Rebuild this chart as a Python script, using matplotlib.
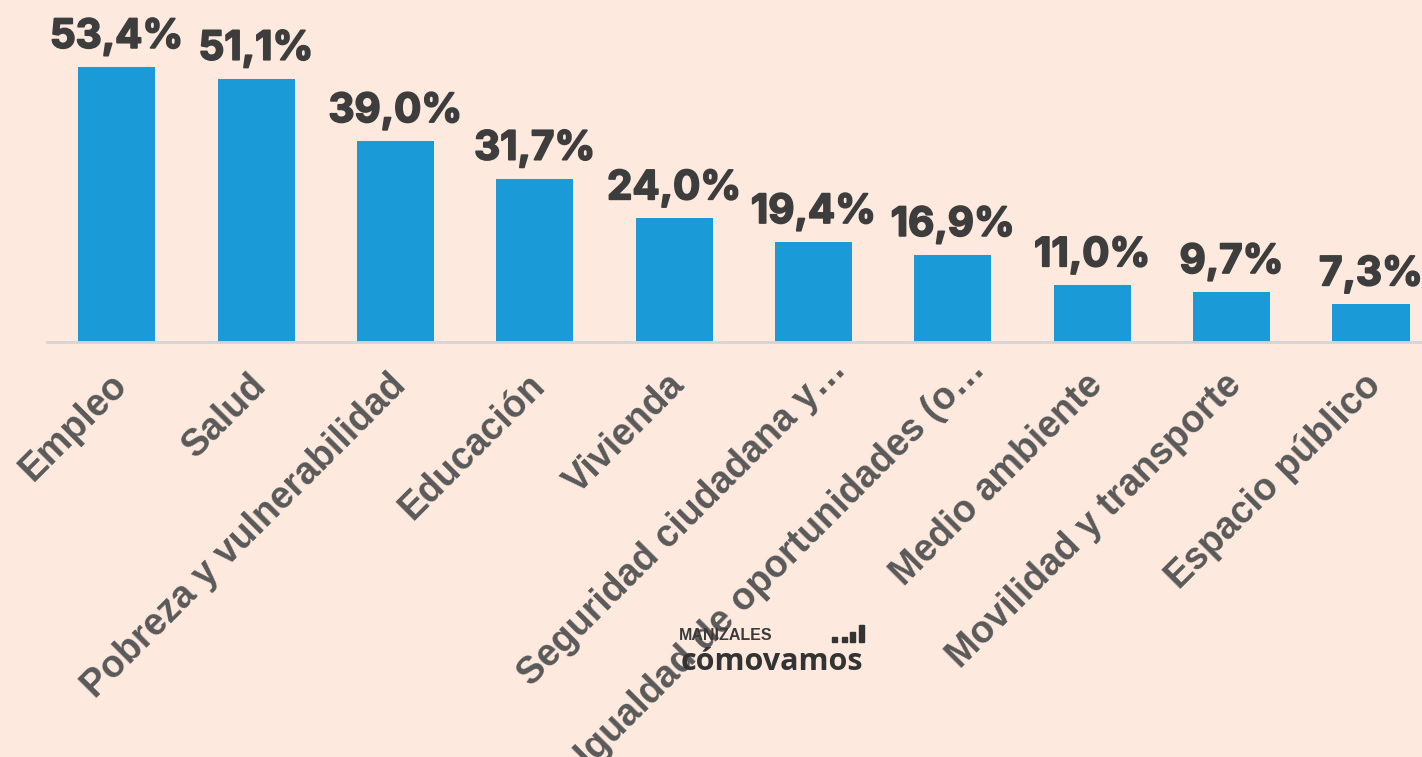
import matplotlib
matplotlib.use("Agg")
import matplotlib.pyplot as plt
import matplotlib.transforms as mtransforms
import matplotlib.patheffects as pe
from matplotlib.patches import Rectangle

categories = ["Empleo", "Salud", "Pobreza y vulnerabilidad", "Educación", "Vivienda",
              "Seguridad ciudadana y…", "Igualdad de oportunidades (o…",
              "Medio ambiente", "Movilidad y transporte", "Espacio público"]
values = [53.4, 51.1, 39.0, 31.7, 24.0, 19.4, 16.9, 11.0, 9.7, 7.3]
value_labels = ["53,4%", "51,1%", "39,0%", "31,7%", "24,0%", "19,4%", "16,9%", "11,0%", "9,7%", "7,3%"]

BG = "#FDE9DE"
BAR = "#1A9BD7"
VAL = "#3D3D3D"

W, H = 1422, 757
fig = plt.figure(figsize=(W / 100, H / 100), dpi=100, facecolor=BG)
ax = fig.add_axes([47 / W, 1 - 342 / H, (W - 47) / W, 342 / H])
ax.set_facecolor(BG)

x = list(range(len(categories)))
ax.bar(x, values, width=0.553, color=BAR, zorder=2)
ax.set_xlim(-0.5, 9.366)
ax.set_ylim(0, 66.4)

for xi, v, lab in zip(x, values, value_labels):
    ax.annotate(lab, (xi, v), xytext=(0, 8), textcoords="offset points",
                ha="center", va="bottom", fontsize=29, fontweight="bold",
                family="Inter", color=VAL, clip_on=False,
                path_effects=[pe.withStroke(linewidth=1.3, foreground=VAL)])

ax.set_xticks(x)
ax.set_xticklabels(categories, rotation=45, ha="right", rotation_mode="anchor",
                   fontsize=27, fontweight="bold", family="Liberation Sans",
                   color="#595959")
ax.tick_params(axis="x", length=0, pad=18)
for t in ax.get_xticklabels():
    dx, dy = -8, 0
    if t.get_text().endswith("…"):
        # truncated labels sit a little further along the slant
        dx, dy = 14, 16
    shift = mtransforms.ScaledTranslation(dx / 100, dy / 100, fig.dpi_scale_trans)
    t.set_transform(t.get_transform() + shift)
ax.set_yticks([])
for s in ["top", "left", "right"]:
    ax.spines[s].set_visible(False)
ax.spines["bottom"].set_color("#D5D5D5")
ax.spines["bottom"].set_linewidth(2)

# Logo
fig.text(679 / W, 1 - 636 / H, "MANIZALES", fontsize=11.5, fontweight="bold",
         family="Liberation Sans", color="#3A3A3A", va="center", ha="left")
fig.text(681 / W, 1 - 662 / H, "cómovamos", fontsize=22, fontweight="bold",
         family="Open Sans", color="#333333", va="center", ha="left")
for bx, h in [(832, 5), (842, 5), (850, 10), (859, 17)]:
    fig.patches.append(Rectangle((bx / W, 1 - 642 / H), 5 / W, h / H,
                                 transform=fig.transFigure, color="#333333"))

fig.savefig("out.png", dpi=100, facecolor=BG)
